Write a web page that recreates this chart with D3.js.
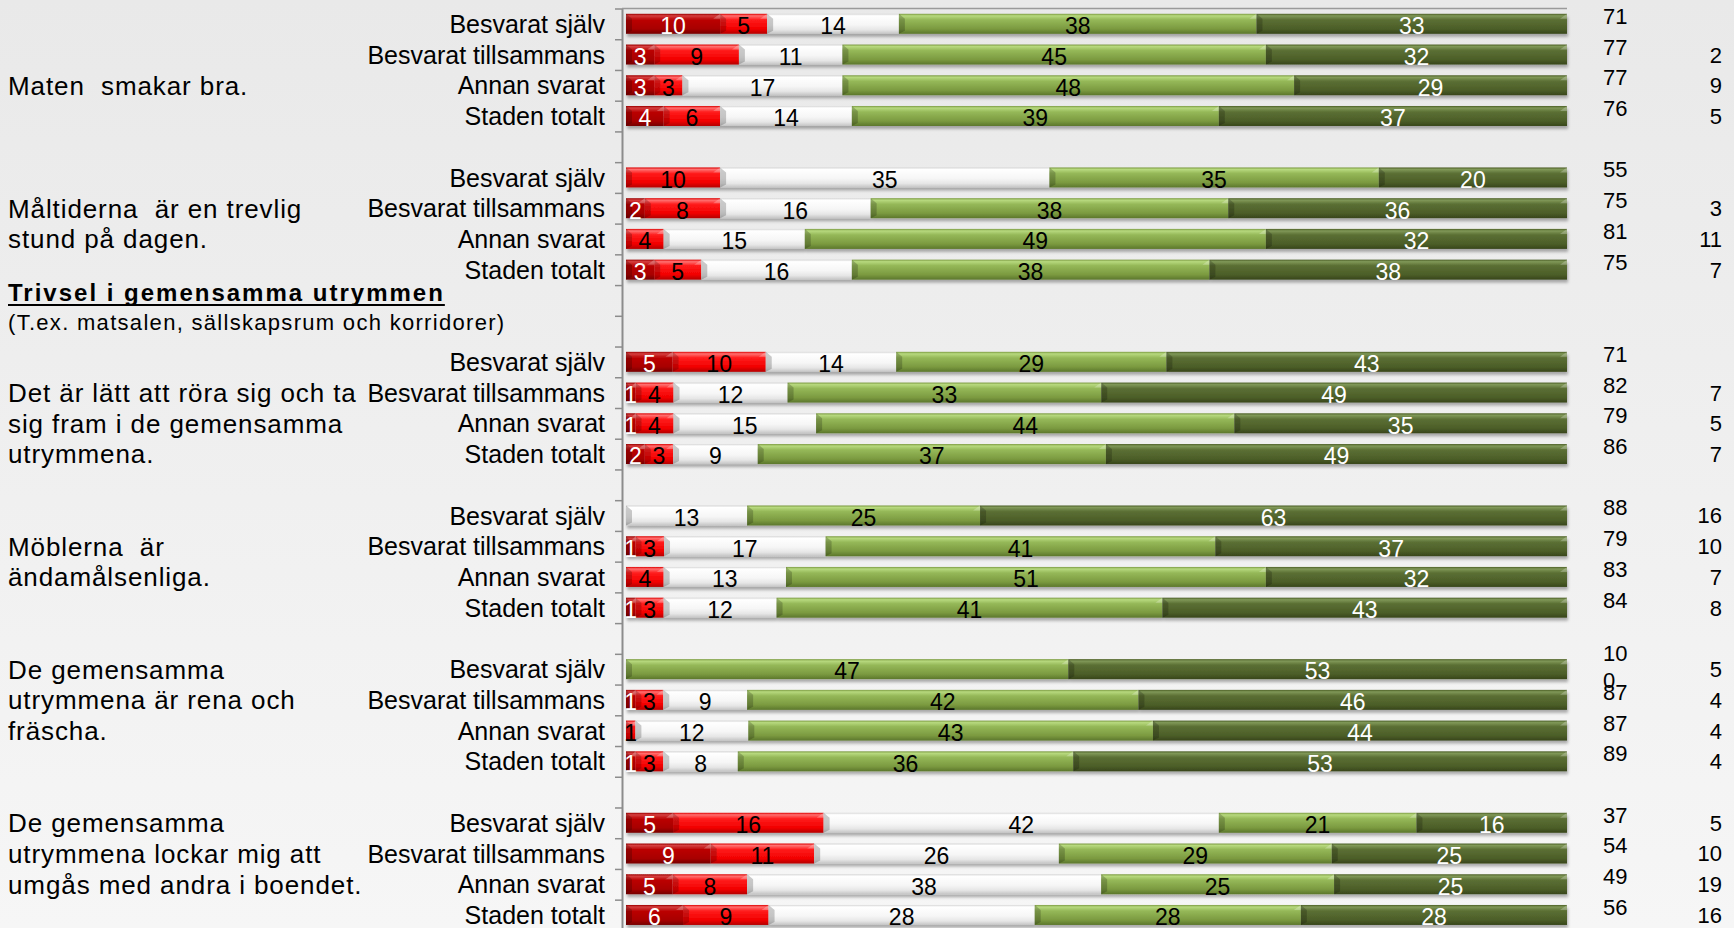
<!DOCTYPE html>
<html>
<head>
<meta charset="utf-8">
<script src="https://cdn.jsdelivr.net/npm/d3@7"></script>
<style>
  body { margin: 0; background: #efefef; }
  svg { display: block; font-family: 'Liberation Sans', Arial, sans-serif; }
  text { white-space: pre; }
</style>
</head>
<body>
<div id="chart"></div>
<script>
// Same four respondent groups for every statement
var respondents = ['Besvarat själv', 'Besvarat tillsammans', 'Annan svarat', 'Staden totalt']

var statements = [
  ['Maten  smakar bra.'],
  ['Måltiderna  är en trevlig', 'stund på dagen.'],
  ['Det är lätt att röra sig och ta', 'sig fram i de gemensamma', 'utrymmena.'],
  ['Möblerna  är', 'ändamålsenliga.'],
  ['De gemensamma', 'utrymmena är rena och', 'fräscha.'],
  ['De gemensamma', 'utrymmena lockar mig att', 'umgås med andra i boendet.']
]

var sectionTitle = 'Trivsel i gemensamma utrymmen'
var sectionNote = '(T.ex. matsalen, sällskapsrum och korridorer)'

// answer shares in %, 4 bars per statement, top to bottom
var instammerInteAlls = [10, 3, 3, 4, 0, 2, 0, 3, 5, 1, 1, 2, 0, 1, 0, 1, 0, 1, 0, 1, 5, 9, 5, 6]
var instammerInte = [5, 9, 3, 6, 10, 8, 4, 5, 10, 4, 4, 3, 0, 3, 4, 3, 0, 3, 1, 3, 16, 11, 8, 9]
var varkenEller = [14, 11, 17, 14, 35, 16, 15, 16, 14, 12, 15, 9, 13, 17, 13, 12, 0, 9, 12, 8, 42, 26, 38, 28]
var instammerDelvis = [38, 45, 48, 39, 35, 38, 49, 38, 29, 33, 44, 37, 25, 41, 51, 41, 47, 42, 43, 36, 21, 29, 25, 28]
var instammerHelt = [33, 32, 29, 37, 20, 36, 32, 38, 43, 49, 35, 49, 63, 37, 32, 43, 53, 46, 44, 53, 16, 25, 25, 28]

// the two number columns on the right
var andelPositiva = [71, 77, 77, 76, 55, 75, 81, 75, 71, 82, 79, 86, 88, 79, 83, 84, 100, 87, 87, 89, 37, 54, 49, 56]
var andelVetEj = [null, 2, 9, 5, null, 3, 11, 7, null, 7, 5, 7, 16, 10, 7, 8, 5, 4, 4, 4, 5, 10, 19, 16]

var keys = ['instammerInteAlls', 'instammerInte', 'varkenEller', 'instammerDelvis', 'instammerHelt']
var series = [instammerInteAlls, instammerInte, varkenEller, instammerDelvis, instammerHelt]

// gradients to fake the bevelled office look
var gradients = {
  instammerInteAlls: [[0, '#9c0000'], [0.1, '#d54040'], [0.3, '#bb0505'], [0.75, '#a80000'], [1, '#760000']],
  instammerInte: [[0, '#dd0000'], [0.1, '#ff7070'], [0.3, '#ff1c1c'], [0.75, '#f20000'], [1, '#b50000']],
  varkenEller: [[0, '#d6d6d6'], [0.1, '#ffffff'], [0.55, '#f6f6f6'], [0.8, '#e6e6e6'], [1, '#c4c4c4']],
  instammerDelvis: [[0, '#7c9b42'], [0.1, '#b7d97e'], [0.3, '#95b858'], [0.75, '#7b9a40'], [1, '#5c772c']],
  instammerHelt: [[0, '#4c5f26'], [0.1, '#809858'], [0.3, '#5b6f34'], [0.75, '#4c5e28'], [1, '#38461b']]
}
var labelColors = { instammerInteAlls: '#fff', instammerInte: '#000', varkenEller: '#000', instammerDelvis: '#000', instammerHelt: '#fff' }

var width = 1734
var height = 928
var plotTop = 8.5
var slotStep = 30.73
var barHeight = 20

// build rows: one per bar, blank slots between statements
var rows = []
var slots = []
statements.forEach(function(s, i) {
  respondents.forEach(function(r, j) {
    var row = { id: i + '-' + j, statement: i, label: r }
    keys.forEach(function(k, n) {
      row[k] = series[n][i * 4 + j]
    })
    row.positiva = andelPositiva[i * 4 + j]
    row.vetEj = andelVetEj[i * 4 + j]
    rows.push(row)
    slots.push(row.id)
  })
  if (i < statements.length - 1) slots.push('gap' + i)
  if (i === 1) slots.push('gap-title')
})

var svg = d3.select('#chart')
  .append('svg')
  .attr('width', width)
  .attr('height', height)

var defs = svg.append('defs')

var bg = defs.append('linearGradient')
  .attr('id', 'bg')
  .attr('x1', 0).attr('y1', 0).attr('x2', 0).attr('y2', 1)
bg.append('stop').attr('offset', 0).attr('stop-color', '#e9e9e9')
bg.append('stop').attr('offset', 1).attr('stop-color', '#f6f6f6')

keys.forEach(function(k) {
  var g = defs.append('linearGradient')
    .attr('id', 'grad-' + k)
    .attr('x1', 0).attr('y1', 0).attr('x2', 0).attr('y2', 1)
  gradients[k].forEach(function(s) {
    g.append('stop').attr('offset', s[0]).attr('stop-color', s[1])
  })
})

var shadow = defs.append('filter')
  .attr('id', 'shadow')
  .attr('x', '-2%').attr('y', '-30%').attr('width', '104%').attr('height', '180%')
shadow.append('feDropShadow')
  .attr('dx', 1).attr('dy', 3)
  .attr('stdDeviation', 1.6)
  .attr('flood-color', '#000')
  .attr('flood-opacity', 0.3)

svg.append('rect')
  .attr('width', width)
  .attr('height', height)
  .attr('fill', 'url(#bg)')

// scales
var yScale = d3.scaleBand()
  .domain(slots)
  .range([plotTop, plotTop + slots.length * slotStep])

var xPositionScale = d3.scaleLinear()
  .domain([0, 1])
  .range([626, 1567])

// tick marks sit between categories, so use a plain linear scale for them
var yTickScale = d3.scaleLinear()
  .domain([0, slots.length])
  .range([plotTop, plotTop + slots.length * slotStep])

var stacked = d3.stack()
  .keys(keys)
  .offset(d3.stackOffsetExpand)(rows)

// axis
var yAxis = d3.axisLeft(yTickScale)
  .tickValues(d3.range(0, slots.length + 1))
  .tickFormat('')
  .tickSizeInner(7)
  .tickSizeOuter(0)

svg.append('g')
  .attr('class', 'axis y-axis')
  .attr('transform', 'translate(622,0)')
  .call(yAxis)
  .call(function(g) {
    g.select('.domain').attr('stroke', '#8c8c8c').attr('stroke-width', 2)
    g.selectAll('.tick line').attr('stroke', '#8c8c8c').attr('stroke-width', 1.5)
  })

// top frame line
svg.append('line')
  .attr('x1', 622)
  .attr('x2', xPositionScale(1))
  .attr('y1', yTickScale(0))
  .attr('y2', yTickScale(0))
  .attr('stroke', '#9a9a9a')
  .attr('stroke-width', 1.5)

// bars
var barGroup = svg.append('g').attr('filter', 'url(#shadow)')

stacked.forEach(function(layer) {
  var k = layer.key
  var segs = layer.filter(function(d) { return d.data[k] > 0 })

  var g = barGroup.append('g').attr('class', 'layer ' + k)

  g.selectAll('rect')
    .data(segs)
    .enter()
    .append('rect')
    .attr('x', function(d) { return xPositionScale(d[0]) })
    .attr('y', function(d) { return yScale(d.data.id) + 5.3 })
    .attr('width', function(d) { return xPositionScale(d[1]) - xPositionScale(d[0]) })
    .attr('height', barHeight)
    .attr('fill', 'url(#grad-' + k + ')')

  // left bevel (dark wedge)
  g.selectAll('path.left')
    .data(segs)
    .enter()
    .append('path')
    .attr('class', 'left')
    .attr('d', function(d) {
      var x0 = xPositionScale(d[0])
      var w = Math.min(6, (xPositionScale(d[1]) - x0) / 2)
      var y = yScale(d.data.id) + 5.3
      return 'M' + x0 + ',' + y + 'L' + (x0 + w) + ',' + (y + 5) + 'L' + (x0 + w) + ',' + (y + barHeight - 3) + 'L' + x0 + ',' + (y + barHeight) + 'Z'
    })
    .attr('fill', '#000')
    .attr('opacity', 0.2)

  // right bevel, just a hint of light on the top corner
  g.selectAll('path.right')
    .data(segs)
    .enter()
    .append('path')
    .attr('class', 'right')
    .attr('d', function(d) {
      var x1 = xPositionScale(d[1])
      var w = Math.min(7, (x1 - xPositionScale(d[0])) / 2)
      var y = yScale(d.data.id) + 5.3
      return 'M' + x1 + ',' + y + 'L' + (x1 - w) + ',' + (y + 5) + 'L' + x1 + ',' + (y + 5) + 'Z'
    })
    .attr('fill', '#fff')
    .attr('opacity', 0.25)
})

// segment labels
stacked.forEach(function(layer) {
  var k = layer.key
  svg.append('g')
    .selectAll('text')
    .data(layer.filter(function(d) { return d.data[k] > 0 }))
    .enter()
    .append('text')
    .attr('x', function(d) { return xPositionScale((d[0] + d[1]) / 2) })
    .attr('y', function(d) { return yScale(d.data.id) + yScale.bandwidth() / 2 + 2 })
    .attr('dy', '0.36em')
    .attr('text-anchor', 'middle')
    .attr('font-size', 23)
    .attr('fill', labelColors[k])
    .text(function(d) { return d.data[k] })
})

// respondent labels
svg.append('g')
  .selectAll('text')
  .data(rows)
  .enter()
  .append('text')
  .attr('x', 605)
  .attr('y', function(d) { return yScale(d.id) + yScale.bandwidth() / 2 })
  .attr('dy', '0.36em')
  .attr('text-anchor', 'end')
  .attr('font-size', 25)
  .attr('fill', '#000')
  .text(function(d) { return d.label })

// right columns
svg.append('g')
  .selectAll('text')
  .data(rows)
  .enter()
  .append('text')
  .attr('x', 1603)
  .attr('y', function(d) { return yScale(d.id) + yScale.bandwidth() / 2 - 8 })
  .attr('font-size', 22)
  .attr('fill', '#000')
  .each(function(d) {
    // the column is narrow, so 100 wraps onto two lines
    var s = String(d.positiva)
    var parts = s.length > 2 ? [s.slice(0, 2), s.slice(2)] : [s]
    var t = d3.select(this)
    parts.forEach(function(p, i) {
      t.append('tspan')
        .attr('x', 1603)
        .attr('dy', i === 0 ? (0.36 - (parts.length - 1) * 0.36) + 'em' : '1.2em')
        .text(p)
    })
  })

svg.append('g')
  .selectAll('text')
  .data(rows.filter(function(d) { return d.vetEj !== null }))
  .enter()
  .append('text')
  .attr('x', 1722)
  .attr('y', function(d) { return yScale(d.id) + yScale.bandwidth() / 2 })
  .attr('dy', '0.36em')
  .attr('text-anchor', 'end')
  .attr('font-size', 22)
  .attr('fill', '#000')
  .text(function(d) { return d.vetEj })

// statement texts, lined up with the bar rows
var firstLineRow = [2, 1, 1, 1, 0, 0]
var statementGroup = svg.append('g')
statements.forEach(function(lines, i) {
  statementGroup.selectAll('text.s' + i)
    .data(lines)
    .enter()
    .append('text')
    .attr('class', 's' + i)
    .attr('x', 8)
    .attr('y', function(d, n) {
      return yScale(i + '-' + (firstLineRow[i] + n)) + yScale.bandwidth() / 2
    })
    .attr('dy', '0.36em')
    .attr('font-size', 26)
    .attr('letter-spacing', 0.9)
    .attr('fill', '#000')
    .text(function(d) { return d })
})

// section header
var title = svg.append('text')
  .attr('x', 8)
  .attr('y', yScale('gap1') + yScale.bandwidth() / 2 - 8)
  .attr('dy', '0.36em')
  .attr('font-size', 24)
  .attr('font-weight', 'bold')
  .attr('letter-spacing', 2)
  .attr('fill', '#000')
  .text(sectionTitle)

var tw = title.node().getComputedTextLength()
svg.append('line')
  .attr('x1', 8)
  .attr('x2', 8 + tw)
  .attr('y1', yScale('gap1') + yScale.bandwidth() / 2 + 4.5)
  .attr('y2', yScale('gap1') + yScale.bandwidth() / 2 + 4.5)
  .attr('stroke', '#000')
  .attr('stroke-width', 2)

svg.append('text')
  .attr('x', 8)
  .attr('y', yScale('gap-title') + yScale.bandwidth() / 2 - 9)
  .attr('dy', '0.36em')
  .attr('font-size', 22)
  .attr('letter-spacing', 1.3)
  .attr('fill', '#000')
  .text(sectionNote)
</script>
</body>
</html>
